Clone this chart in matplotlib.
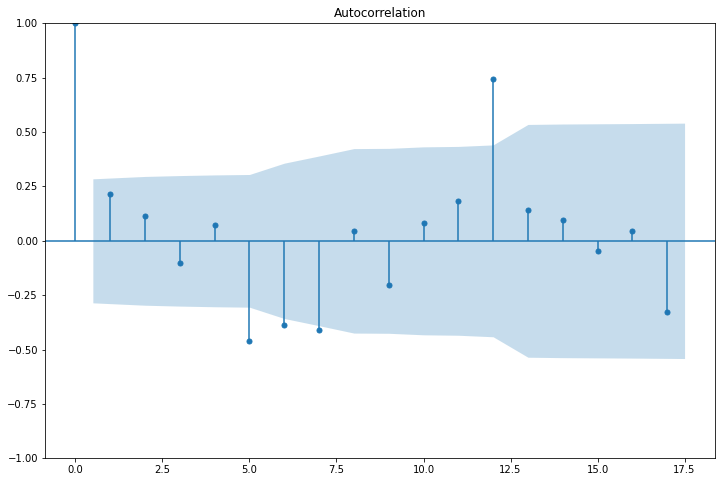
import matplotlib.pyplot as plt
import numpy as np

# ACF values (lag 0..17)
lags = np.arange(18)
acf_vals = [1.0, 0.213, 0.112, -0.100, 0.075, -0.462, -0.389, -0.411, 0.044,
            -0.205, 0.080, 0.185, 0.742, 0.144, 0.098, -0.045, 0.043, -0.326]

# upper edge of the confidence band at lags 1..17
conf_upper = [0.285, 0.296, 0.300, 0.303, 0.305, 0.357, 0.390, 0.424, 0.425,
              0.432, 0.434, 0.441, 0.535, 0.537, 0.538, 0.539, 0.541]

fig = plt.figure(figsize=(721 / 72, 482 / 72), dpi=72)
ax = fig.add_axes([0.0624, 0.049, 0.9293, 0.9027])

ax.vlines(lags, [0], acf_vals, color="C0", linewidth=1.5)
ax.plot(lags, acf_vals, "o", color="C0", markersize=5)
ax.axhline(0, color="C0", linewidth=1.5)

band_x = lags[1:].astype(float)
band_x[0] -= 0.5
band_x[-1] += 0.5
conf = np.array(conf_upper)
ax.fill_between(band_x, -conf, conf, alpha=0.25, linewidth=0, color="C0")

ax.set_ylim(-1, 1)
ax.set_title("Autocorrelation")

fig.savefig("out.png", dpi=72)
